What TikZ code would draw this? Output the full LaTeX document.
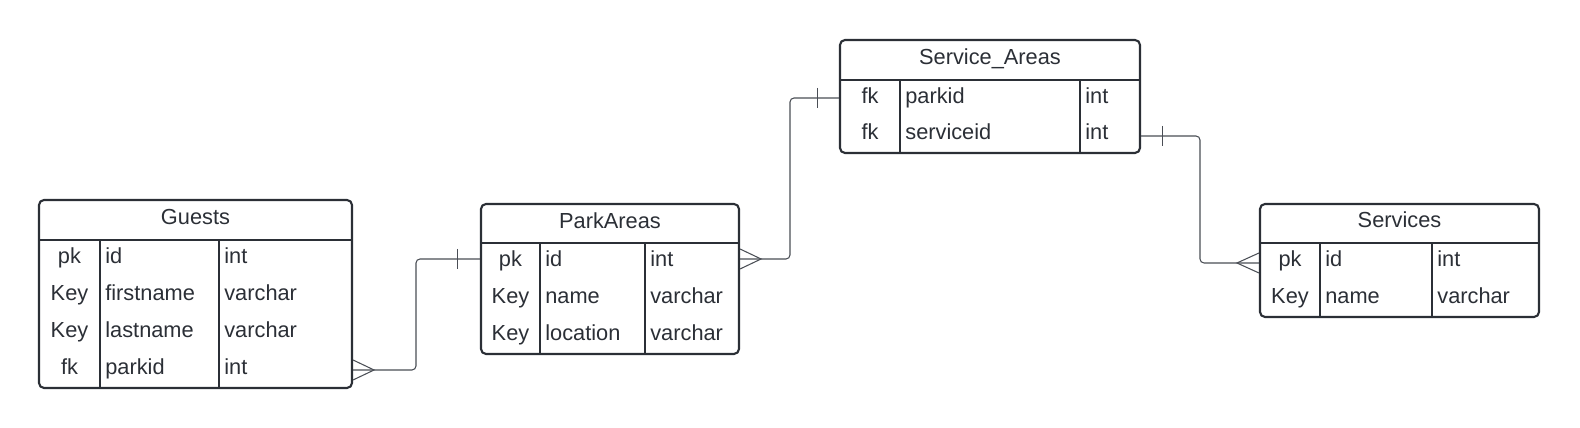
\documentclass[tikz,border=0pt]{standalone}
\usepackage{fontspec}
\setmainfont{Liberation Sans}
\usepackage{tikz}
\usetikzlibrary{positioning,calc}
\definecolor{ink}{HTML}{2B2F36}
\definecolor{wirecol}{HTML}{4A4E55}
\begin{document}
\begin{tikzpicture}[x=0.02cm,y=0.02cm,
  every node/.style={text=ink,font=\fontsize{12.4}{15}\selectfont,inner sep=0pt},
  tablebox/.style={draw=ink,line width=1.2pt,rounded corners=0.1cm},
  rule/.style={draw=ink,line width=1.2pt},
  keycell/.style={anchor=base},
  cell/.style={anchor=base west},
  link/.style={draw=wirecol,line width=0.6pt}]
\useasboundingbox (0,0) rectangle (1580,428);

\node[tablebox,minimum width=313*0.02cm,minimum height=188*0.02cm] (guests) at (195.5,134) {};
\draw[rule] (39,188) -- (352,188);
\draw[rule] (100,188) -- (100,40);
\draw[rule] (219,188) -- (219,40);
\node[keycell] (gtitle) at (195.5,203) {Guests};
\node[keycell] (gk1) at (69.5,164) {pk};
\node[cell] (gn1) at (105,164) {id};
\node[cell] (gt1) at (224,164) {int};
\node[keycell] (gk2) at (69.5,127) {Key};
\node[cell] (gn2) at (105,127) {firstname};
\node[cell] (gt2) at (224,127) {varchar};
\node[keycell] (gk3) at (69.5,90) {Key};
\node[cell] (gn3) at (105,90) {lastname};
\node[cell] (gt3) at (224,90) {varchar};
\node[keycell] (gk4) at (69.5,53) {fk};
\node[cell] (gn4) at (105,53) {parkid};
\node[cell] (gt4) at (224,53) {int};

\node[tablebox,minimum width=258*0.02cm,minimum height=150*0.02cm] (parkareas) at (610,149) {};
\draw[rule] (481,185) -- (739,185);
\draw[rule] (540,185) -- (540,74);
\draw[rule] (645,185) -- (645,74);
\node[keycell] (ptitle) at (610,199) {ParkAreas};
\node[keycell] (pk1) at (510.5,161) {pk};
\node[cell] (pn1) at (545,161) {id};
\node[cell] (pt1) at (650,161) {int};
\node[keycell] (pk2) at (510.5,124) {Key};
\node[cell] (pn2) at (545,124) {name};
\node[cell] (pt2) at (650,124) {varchar};
\node[keycell] (pk3) at (510.5,87) {Key};
\node[cell] (pn3) at (545,87) {location};
\node[cell] (pt3) at (650,87) {varchar};

\node[tablebox,minimum width=300*0.02cm,minimum height=113*0.02cm] (serviceareas) at (990,331.5) {};
\draw[rule] (840,348) -- (1140,348);
\draw[rule] (900,348) -- (900,275);
\draw[rule] (1080,348) -- (1080,275);
\node[keycell] (atitle) at (990,363) {Service\_Areas};
\node[keycell] (ak1) at (870,324) {fk};
\node[cell] (an1) at (905,324) {parkid};
\node[cell] (at1) at (1085,324) {int};
\node[keycell] (ak2) at (870,288) {fk};
\node[cell] (an2) at (905,288) {serviceid};
\node[cell] (at2) at (1085,288) {int};

\node[tablebox,minimum width=279*0.02cm,minimum height=113*0.02cm] (services) at (1399.5,167.5) {};
\draw[rule] (1260,185) -- (1539,185);
\draw[rule] (1320,185) -- (1320,111);
\draw[rule] (1432,185) -- (1432,111);
\node[keycell] (stitle) at (1399.5,200) {Services};
\node[keycell] (sk1) at (1290,161) {pk};
\node[cell] (sn1) at (1325,161) {id};
\node[cell] (st1) at (1437,161) {int};
\node[keycell] (sk2) at (1290,124) {Key};
\node[cell] (sn2) at (1325,124) {name};
\node[cell] (st2) at (1437,124) {varchar};

\coordinate (g4) at (0,58);
\coordinate (p1) at (0,169);
\coordinate (a1) at (0,330);
\coordinate (a2) at (0,292);
\coordinate (s1) at (0,165);

\draw[link,rounded corners=0.08cm] (guests.east |- g4) -- (416,58) -- (416,169) -- (parkareas.west |- p1);
\draw[link] (guests.east |- g4) ++(0,10) -- ++(21,-10) -- ++(-21,-10);
\draw[link] (parkareas.west |- p1) ++(-22,10) -- ++(0,-20);

\draw[link,rounded corners=0.08cm] (parkareas.east |- p1) -- (790,169) -- (790,330) -- (serviceareas.west |- a1);
\draw[link] (parkareas.east |- p1) ++(0,10) -- ++(21,-10) -- ++(-21,-10);
\draw[link] (serviceareas.west |- a1) ++(-21,10) -- ++(0,-20);

\draw[link,rounded corners=0.08cm] (serviceareas.east |- a2) -- (1200,292) -- (1200,165) -- (services.west |- s1);
\draw[link] (serviceareas.east |- a2) ++(21,10) -- ++(0,-20);
\draw[link] (services.west |- s1) ++(0,10) -- ++(-22,-10) -- ++(22,-10);
\end{tikzpicture}
\end{document}
